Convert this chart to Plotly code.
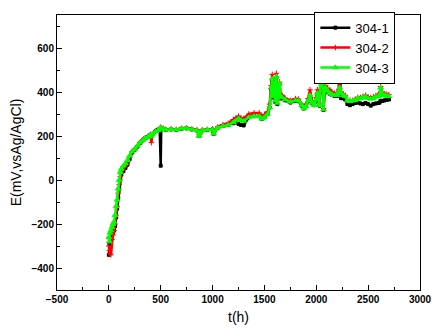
import plotly.graph_objects as go

t_h = [0, 5, 10, 20, 30, 40, 50, 60, 70, 80,
       90, 100, 110, 120, 140, 160, 180, 200, 225, 250,
       275, 300, 325, 350, 375, 400, 410, 420, 450, 475,
       490, 500, 505, 525, 550, 600, 650, 700, 750, 800,
       850, 870, 880, 900, 950, 1000, 1010, 1050, 1100, 1150,
       1200, 1225, 1250, 1275, 1300, 1350, 1400, 1450, 1475, 1500,
       1530, 1550, 1565, 1575, 1585, 1595, 1605, 1615, 1625, 1635,
       1645, 1655, 1670, 1700, 1750, 1800, 1830, 1860, 1880, 1900,
       1920, 1940, 1960, 1980, 2000, 2010, 2020, 2030, 2040, 2050,
       2060, 2070, 2080, 2090, 2110, 2130, 2150, 2175, 2200, 2215,
       2225, 2240, 2260, 2280, 2300, 2325, 2350, 2375, 2400, 2425,
       2450, 2475, 2500, 2525, 2550, 2575, 2600, 2610, 2620, 2640,
       2660, 2680, 2700]

e_304_1 = [-340, -290, -270, -260, -250, -240, -230, -210, -170, -130,
           -80, -40, 0, 25, 40, 55, 70, 95, 125, 138,
           152, 168, 180, 190, 196, 205, 200, 208, 222, 228,
           232, 65, 235, 232, 228, 230, 228, 233, 235, 230,
           225, 200, 215, 225, 228, 230, 210, 238, 245, 250,
           258, 262, 255, 250, 248, 285, 290, 290, 278, 285,
           300, 330, 415, 455, 375, 435, 355, 465, 345, 415,
           435, 375, 370, 362, 352, 360, 358, 338, 325, 335,
           358, 382, 348, 340, 362, 392, 378, 338, 468, 510,
           435, 318, 405, 418, 400, 392, 388, 382, 382, 398,
           430, 372, 372, 365, 345, 340, 345, 350, 352, 348,
           345, 350, 345, 338, 345, 348, 350, 352, 360, 360,
           362, 365, 366]

e_304_2 = [-300, -320, -335, -340, -270, -250, -230, -200, -160, -120,
           -60, -20, 15, 35, 50, 65, 80, 105, 130, 140,
           155, 170, 182, 192, 197, 208, 170, 205, 222, 228,
           235, 240, 238, 235, 230, 232, 230, 235, 237, 232,
           228, 205, 218, 228, 230, 232, 215, 242, 252, 258,
           275, 282, 290, 282, 280, 300, 305, 305, 290, 298,
           310, 345, 430, 480, 385, 450, 370, 485, 360, 430,
           445, 390, 385, 372, 362, 370, 368, 345, 332, 345,
           370, 410, 360, 350, 375, 410, 395, 350, 480, 520,
           445, 325, 415, 430, 415, 410, 400, 395, 395, 410,
           445, 400, 390, 385, 362, 362, 362, 368, 375, 375,
           380, 385, 378, 375, 378, 383, 388, 395, 425, 395,
           392, 390, 388]

e_304_3 = [-260, -280, -240, -230, -215, -200, -190, -160, -120, -90,
           -40, 0, 35, 50, 65, 75, 90, 110, 130, 140,
           155, 170, 180, 190, 195, 205, 200, 210, 220, 225,
           232, 238, 235, 232, 228, 230, 228, 233, 235, 230,
           225, 200, 215, 225, 228, 230, 210, 238, 245, 250,
           262, 270, 280, 272, 268, 285, 290, 290, 278, 285,
           300, 330, 420, 460, 380, 440, 360, 470, 350, 420,
           440, 380, 375, 365, 355, 362, 360, 340, 325, 335,
           360, 385, 350, 340, 365, 395, 380, 340, 470, 515,
           440, 320, 410, 420, 405, 395, 390, 385, 385, 400,
           420, 395, 385, 380, 360, 358, 360, 363, 372, 370,
           375, 378, 372, 368, 372, 378, 380, 385, 420, 388,
           385, 382, 380]

series = [("304-1", e_304_1, "black", "square", 3),
          ("304-2", e_304_2, "red", "cross-thin", 4),
          ("304-3", e_304_3, "#00ff00", "triangle-up", 5)]

fig = go.Figure()
for name, vals, col, sym, ms in series:
    fig.add_trace(go.Scatter(
        x=t_h, y=vals, name=name, mode="lines+markers",
        line=dict(color=col, width=2.5),
        marker=dict(color=col, symbol=sym, size=ms,
                    line=dict(color=col, width=1)),
    ))

axis_common = dict(
    showline=True, linecolor="black", linewidth=1, mirror=True,
    ticks="inside", ticklen=5, tickwidth=1, tickcolor="black",
    showgrid=False, zeroline=False,
    tickfont=dict(family="Arial", size=10, color="black", weight="bold"),
)

fig.update_xaxes(range=[-500, 3000], dtick=500, tick0=0,
                 minor=dict(ticks="inside", ticklen=3, dtick=250, tickcolor="black"),
                 title=dict(text="t(h)", font=dict(family="Arial", size=14, color="black"),
                            standoff=8),
                 **axis_common)
fig.update_yaxes(range=[-500, 750], dtick=200, tick0=0,
                 minor=dict(ticks="inside", ticklen=3, dtick=100, tickcolor="black"),
                 title=dict(text="E(mV,vsAg/AgCl)", font=dict(family="Arial", size=14, color="black"),
                            standoff=6),
                 **axis_common)

fig.update_layout(
    width=444, height=335,
    margin=dict(l=57, r=15, t=15, b=45),
    plot_bgcolor="white", paper_bgcolor="white",
    legend=dict(x=0.709, y=1.012, xanchor="left", yanchor="top",
                bordercolor="black", borderwidth=1, bgcolor="white",
                font=dict(family="Arial", size=13, color="black"),
                tracegroupgap=0, itemwidth=30),
    showlegend=True,
)

fig.write_html("out.html")
